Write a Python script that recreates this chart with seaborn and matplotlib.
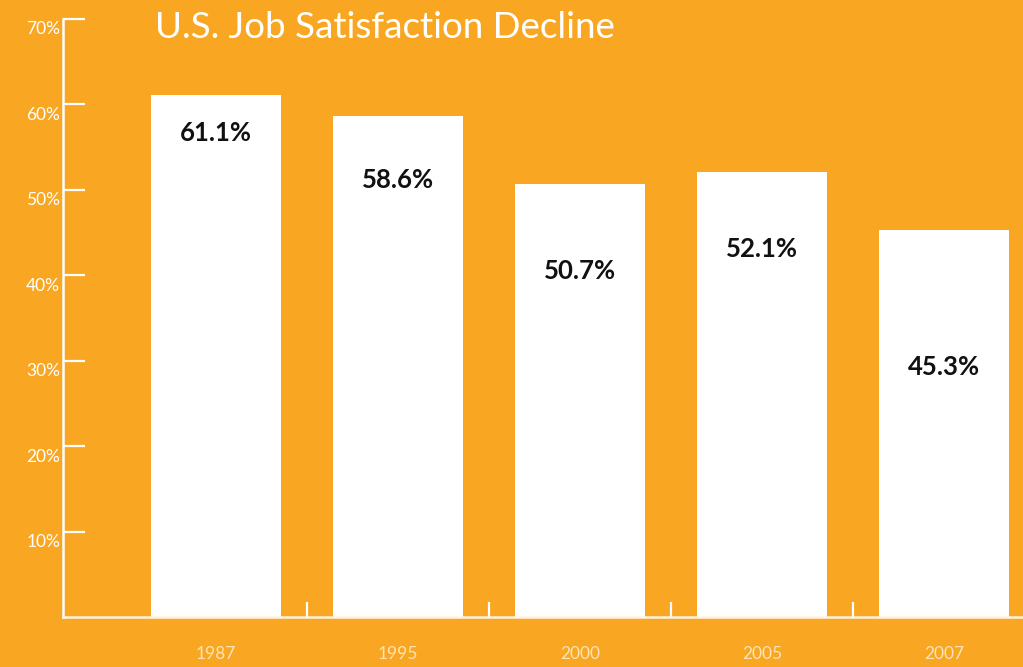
import matplotlib
matplotlib.use("Agg")
import matplotlib.pyplot as plt
import matplotlib.transforms as mtransforms
import pandas as pd
import seaborn as sns

years = ["1987", "1995", "2000", "2005", "2007"]
satisfaction = [61.1, 58.6, 50.7, 52.1, 45.3]
value_labels = ["61.1%", "58.6%", "50.7%", "52.1%", "45.3%"]
label_heights = [56.6, 51.1, 40.5, 43.1, 29.3]
y_ticks = [10, 20, 30, 40, 50, 60, 70]
y_tick_labels = ["10%", "20%", "30%", "40%", "50%", "60%", "70%"]

ORANGE = "#F9A722"
W, H = 1023, 667

sns.set_theme(style="white")
plt.rcParams["font.family"] = ["Lato", "DejaVu Sans"]

df = pd.DataFrame({"year": years, "value": satisfaction})

fig = plt.figure(figsize=(W / 100, H / 100), dpi=100, facecolor=ORANGE)
ax = fig.add_axes([63 / W, (H - 617) / H, 960 / W, 598 / H])
ax.set_facecolor(ORANGE)

sns.barplot(data=df, x="year", y="value", color="white", width=130 / 182,
            saturation=1, ax=ax)
for p in ax.patches:
    p.set_edgecolor("none")

ax.set_xlim(-153 / 182, 807 / 182)
ax.set_ylim(0, 70)

for i, (txt, h) in enumerate(zip(value_labels, label_heights)):
    ax.text(i, h, txt, ha="center", va="center", fontsize=18.5,
            fontweight="bold", color="#111111")

ax.set_yticks(y_ticks)
ax.set_yticklabels(y_tick_labels)
ax.tick_params(axis="y", left=True, direction="in", length=16, width=1.6,
               color="white", labelcolor="white", labelsize=12.5, pad=2)
offset = mtransforms.ScaledTranslation(0, -9 / 100, fig.dpi_scale_trans)
for lbl in ax.get_yticklabels():
    lbl.set_transform(lbl.get_transform() + offset)

ax.set_xticks(range(len(years)))
ax.set_xticklabels(years)
ax.set_xticks([0.5, 1.5, 2.5, 3.5], minor=True)
ax.tick_params(axis="x", which="major", bottom=False, length=0,
               labelcolor="#FDE3B6", labelsize=12.5, pad=21)
ax.tick_params(axis="x", which="minor", bottom=True, direction="in",
               length=11, width=1.6, color="white")

ax.set_xlabel("")
ax.set_ylabel("")
sns.despine(ax=ax, top=True, right=True)
ax.spines["left"].set_color("white")
ax.spines["left"].set_linewidth(1.8)
ax.spines["bottom"].set_color("#FDF3E2")
ax.spines["bottom"].set_linewidth(1.8)

fig.text(155 / W, 1 - 28 / H, "U.S. Job Satisfaction Decline", ha="left",
         va="center", fontsize=26.5, color="white")

fig.savefig("out.png", dpi=100, facecolor=ORANGE)
